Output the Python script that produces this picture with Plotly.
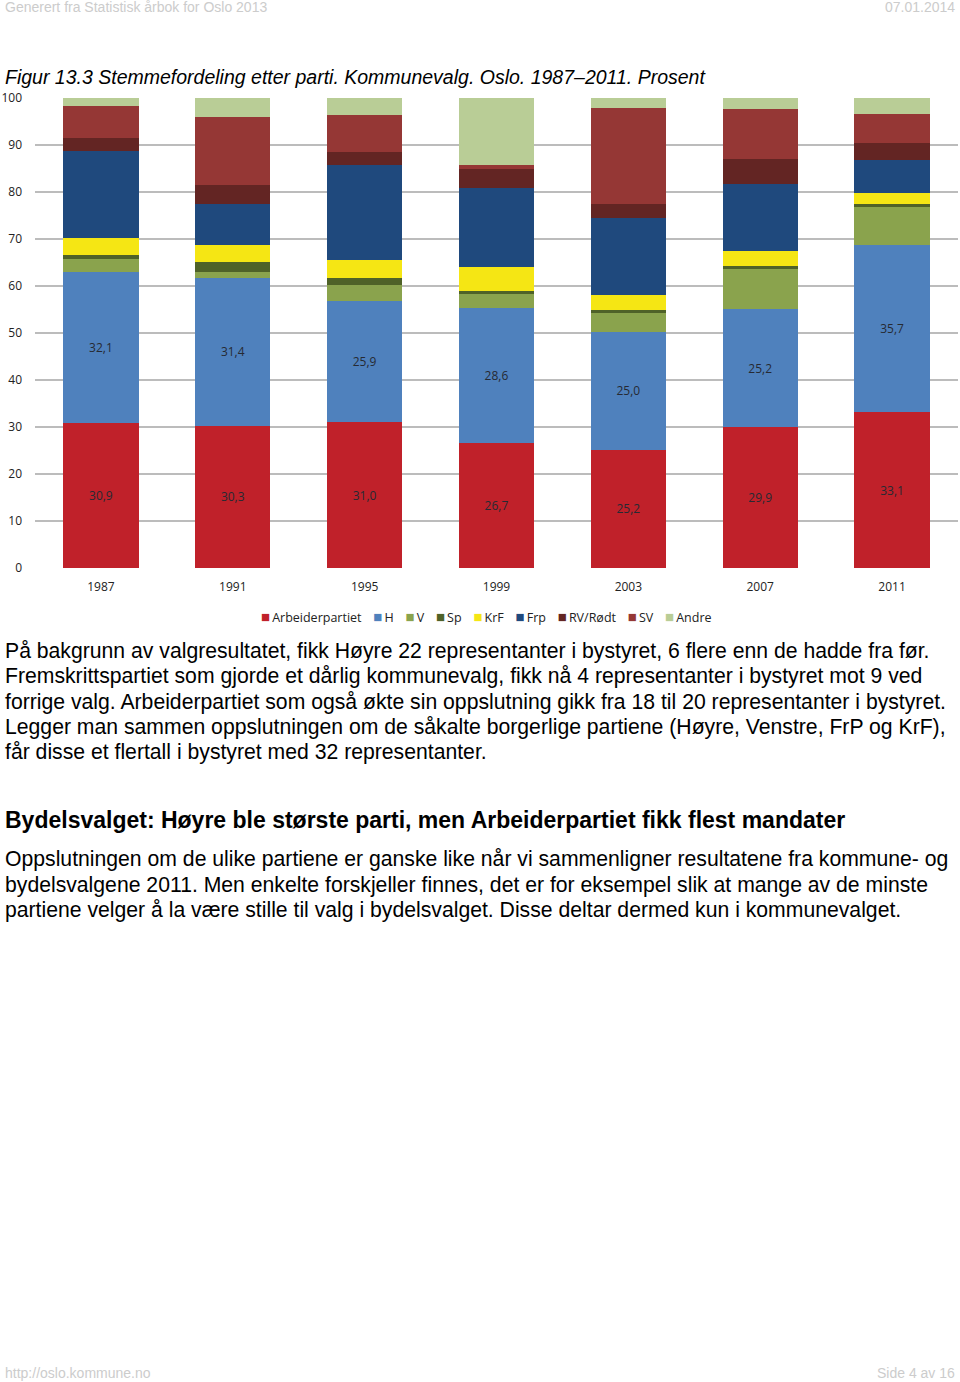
import plotly.graph_objects as go

years = ["1987", "1991", "1995", "1999", "2003", "2007", "2011"]

arbeiderpartiet = [30.9, 30.3, 31.0, 26.7, 25.2, 29.9, 33.1]
hoyre = [32.1, 31.4, 25.9, 28.6, 25.0, 25.2, 35.7]
venstre = [2.7, 1.3, 3.3, 3.1, 4.1, 8.5, 8.1]
senterpartiet = [0.8, 2.2, 1.6, 0.5, 0.7, 0.7, 0.5]
krf = [3.7, 3.5, 3.7, 5.2, 3.1, 3.2, 2.3]
frp = [18.5, 8.7, 20.2, 16.7, 16.4, 14.3, 7.1]
rv_rodt = [2.8, 4.1, 2.9, 4.0, 2.9, 5.2, 3.6]
sv = [6.9, 14.5, 7.8, 0.9, 20.5, 10.6, 6.2]
andre = [1.6, 4.0, 3.6, 14.3, 2.1, 2.4, 3.4]

series = [
    ("Arbeiderpartiet", arbeiderpartiet, "#c0212a", True),
    ("H", hoyre, "#4f81bd", True),
    ("V", venstre, "#8aa34d", False),
    ("Sp", senterpartiet, "#4f6228", False),
    ("KrF", krf, "#f5e614", False),
    ("Frp", frp, "#1f497d", False),
    ("RV/Rødt", rv_rodt, "#632523", False),
    ("SV", sv, "#953735", False),
    ("Andre", andre, "#b9cd96", False),
]

paragraph_1 = [
    "På bakgrunn av valgresultatet, fikk Høyre 22 representanter i bystyret, 6 flere enn de hadde fra før.",
    "Fremskrittspartiet som gjorde et dårlig kommunevalg, fikk nå 4 representanter i bystyret mot 9 ved",
    "forrige valg. Arbeiderpartiet som også økte sin oppslutning gikk fra 18 til 20 representanter i bystyret.",
    "Legger man sammen oppslutningen om de såkalte borgerlige partiene (Høyre, Venstre, FrP og KrF),",
    "får disse et flertall i bystyret med 32 representanter.",
]
heading = "Bydelsvalget: Høyre ble største parti, men Arbeiderpartiet fikk flest mandater"
paragraph_2 = [
    "Oppslutningen om de ulike partiene er ganske like når vi sammenligner resultatene fra kommune- og",
    "bydelsvalgene 2011. Men enkelte forskjeller finnes, det er for eksempel slik at mange av de minste",
    "partiene velger å la være stille til valg i bydelsvalget. Disse deltar dermed kun i kommunevalget.",
]

W, H = 960, 1382
PLOT_TOP, PLOT_BOTTOM = 98, 568
PLOT_LEFT, PLOT_RIGHT = 35, 958


def py(pixel_y):
    # pixel y on page -> paper y
    return (PLOT_BOTTOM - pixel_y) / (PLOT_BOTTOM - PLOT_TOP)


def px_(pixel_x):
    return (pixel_x - PLOT_LEFT) / (PLOT_RIGHT - PLOT_LEFT)


fig = go.Figure()
for name, vals, colour, labelled in series:
    fig.add_trace(
        go.Bar(
            x=years,
            y=vals,
            name=name,
            marker=dict(color=colour, line=dict(width=0)),
            text=[f"{v:.1f}".replace(".", ",") for v in vals] if labelled else None,
            textposition="inside" if labelled else "none",
            insidetextanchor="middle",
            textangle=0,
            textfont=dict(family="Open Sans", size=12, color="#262a33"),
            hoverinfo="x+y+name",
        )
    )

body_font = dict(family="Liberation Sans, Arial", size=21.2, color="#000000")
grey_font = dict(family="Liberation Sans, Arial", size=14, color="#cccccc")

annotations = [
    dict(text="Generert fra Statistisk årbok for Oslo 2013", x=px_(3), y=py(7),
         xanchor="left", yanchor="middle", font=grey_font),
    dict(text="07.01.2014", x=px_(957), y=py(7), xanchor="right", yanchor="middle", font=grey_font),
    dict(text="<i>Figur 13.3 Stemmefordeling etter parti. Kommunevalg. Oslo. 1987–2011. Prosent</i>",
         x=px_(3), y=py(77), xanchor="left", yanchor="middle",
         font=dict(family="Liberation Sans, Arial", size=19.5, color="#000000")),
    dict(text="<b>" + heading + "</b>", x=px_(3), y=py(820), xanchor="left", yanchor="middle",
         font=dict(family="Liberation Sans, Arial", size=23, color="#000000")),
    dict(text="http://oslo.kommune.no", x=px_(3), y=py(1373), xanchor="left", yanchor="middle",
         font=grey_font),
    dict(text="Side 4 av 16", x=px_(957), y=py(1373), xanchor="right", yanchor="middle",
         font=grey_font),
]
for i, line in enumerate(paragraph_1):
    annotations.append(dict(text=line, x=px_(3), y=py(651 + i * 25.3), xanchor="left",
                            yanchor="middle", font=body_font))
for i, line in enumerate(paragraph_2):
    annotations.append(dict(text=line, x=px_(3), y=py(859 + i * 25.5), xanchor="left",
                            yanchor="middle", font=body_font))

# legend drawn as one line of coloured squares and names
nb = "\u00a0"
thin = "\u2009"
legend_text = (nb * 3 + thin).join(
    f'<span style="color:{colour};font-size:15px">■</span>{thin}{name}'
    for name, _, colour, _ in series
)
annotations.append(dict(text=legend_text, x=px_(486), y=py(616), xanchor="center",
                        yanchor="middle",
                        font=dict(family="Open Sans", size=12.5, color="#222222")))

for a in annotations:
    a.update(xref="paper", yref="paper", showarrow=False)

fig.update_layout(
    width=W,
    height=H,
    margin=dict(l=PLOT_LEFT, r=W - PLOT_RIGHT, t=PLOT_TOP, b=H - PLOT_BOTTOM, pad=0),
    paper_bgcolor="white",
    plot_bgcolor="white",
    barmode="stack",
    bargap=0.43,
    font=dict(family="Open Sans", color="#222222"),
    showlegend=False,
    xaxis=dict(
        type="category",
        showgrid=False,
        showline=False,
        ticks="",
        tickfont=dict(family="Open Sans", size=12, color="#222222"),
        ticklabelstandoff=10,
    ),
    yaxis=dict(
        range=[0, 100],
        dtick=10,
        showgrid=True,
        gridcolor="#bcbcbc",
        gridwidth=1.5,
        zeroline=False,
        showline=False,
        ticks="",
        tickfont=dict(family="Open Sans", size=12, color="#222222"),
        ticklabelstandoff=12,
    ),
    annotations=annotations,
)

fig.write_html(
    "out.html",
    config={"displayModeBar": False},
    post_script="document.body.style.margin='0';",
)
